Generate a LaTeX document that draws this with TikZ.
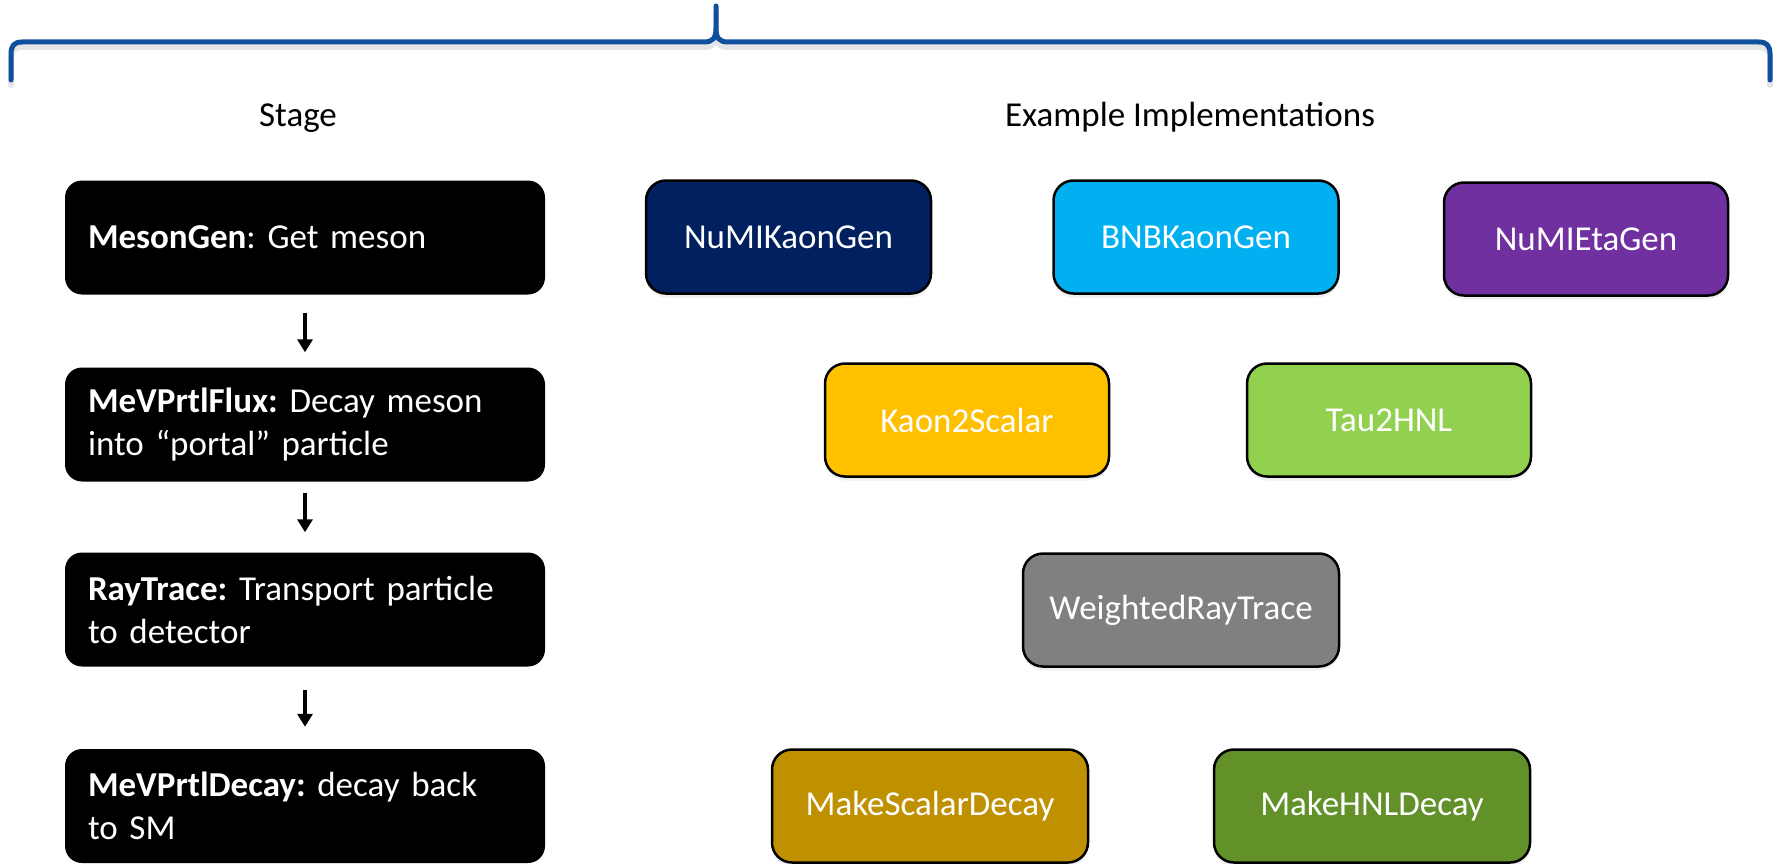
\documentclass[tikz,border=0pt]{standalone}
\usepackage{fontspec}
\setmainfont{Carlito}
\frenchspacing
\usetikzlibrary{arrows.meta,shadows}
\definecolor{braceblue}{RGB}{14,80,158}
\definecolor{cnumik}{RGB}{0,32,96}
\definecolor{cbnb}{RGB}{0,176,240}
\definecolor{ceta}{RGB}{112,48,160}
\definecolor{ckaon}{RGB}{255,192,0}
\definecolor{ctau}{RGB}{146,208,80}
\definecolor{cray}{RGB}{128,128,128}
\definecolor{cmks}{RGB}{191,144,0}
\definecolor{cmkh}{RGB}{97,145,40}
\begin{document}
\begin{tikzpicture}[x=1pt,y=-1pt,
  bigfont/.style={font=\fontsize{35}{43}\selectfont},
  stagebox/.style={fill=black, text=white, rounded corners=17pt,
    minimum width=480pt, minimum height=114pt, inner xsep=23pt,
    text width=434pt, align=left, bigfont},
  implbox/.style={draw=black, line width=2.5pt, rounded corners=20pt,
    text=white, minimum height=113pt, align=center, bigfont,
    drop shadow={opacity=0.12, shadow xshift=0pt, shadow yshift=-4pt}},
  flow/.style={line width=4pt, -{Triangle[width=15pt,length=13pt]}},
  brace/.style={draw=braceblue, line width=5pt, line join=round, line cap=round},
  braceshadow/.style={draw=black, opacity=0.10, line width=6pt, line join=round, line cap=round},
  header/.style={bigfont, anchor=base}
]
\useasboundingbox (0,0) rectangle (1777,864);

% brace (shadow then line)
\draw[braceshadow, yshift=-5pt] (11,80) -- (11,54) .. controls (11,46) and (14,42) .. (22,42)
  -- (704,42) .. controls (713,42) and (716,38) .. (716,28) -- (716,6)
  -- (716,28) .. controls (716,38) and (719,42) .. (728,42)
  -- (1759,42) .. controls (1767,42) and (1770,46) .. (1770,54) -- (1770,80);
\draw[brace] (11,80) -- (11,54) .. controls (11,46) and (14,42) .. (22,42)
  -- (704,42) .. controls (713,42) and (716,38) .. (716,28) -- (716,6)
  -- (716,28) .. controls (716,38) and (719,42) .. (728,42)
  -- (1759,42) .. controls (1767,42) and (1770,46) .. (1770,54) -- (1770,80);

% headers
\node[header] (hstage) at (298,127) {Stage};
\node[header] (himpl) at (1190,127) {Example Implementations};

% stages
\node[stagebox] (s1) at (305,237.5) {\textbf{MesonGen}: Get meson};
\node[stagebox] (s2) at (305,424.5) {\textbf{MeVPrtlFlux:} Decay meson\\into “portal” particle};
\node[stagebox] (s3) at (305,609.5) {\textbf{RayTrace:} Transport particle\\to detector};
\node[stagebox] (s4) at (305,806) {\textbf{MeVPrtlDecay:} decay back\\to SM};

\draw[flow, shorten <=18pt, shorten >=15pt] (s1) -- (s2);
\draw[flow, shorten <=11pt, shorten >=20pt] (s2) -- (s3);
\draw[flow, shorten <=23pt, shorten >=22pt] (s3) -- (s4);

% implementations
\node[implbox, fill=cnumik, minimum width=285pt] (numik) at (788.5,237) {NuMIKaonGen};
\node[implbox, fill=cbnb, minimum width=285pt] (bnbk) at (1196,237) {BNBKaonGen};
\node[implbox, fill=ceta, minimum width=284pt] (numie) at (1586,239) {NuMIEtaGen};
\node[implbox, fill=ckaon, minimum width=284pt] (k2s) at (967,420) {Kaon2Scalar};
\node[implbox, fill=ctau, minimum width=284pt] (t2h) at (1389,420) {Tau2HNL};
\node[implbox, fill=cray, minimum width=316pt] (wrt) at (1181,610) {WeightedRayTrace};
\node[implbox, fill=cmks, minimum width=316pt] (msd) at (930,806) {MakeScalarDecay};
\node[implbox, fill=cmkh, minimum width=316pt] (mhd) at (1372,806) {MakeHNLDecay};
\end{tikzpicture}
\end{document}
